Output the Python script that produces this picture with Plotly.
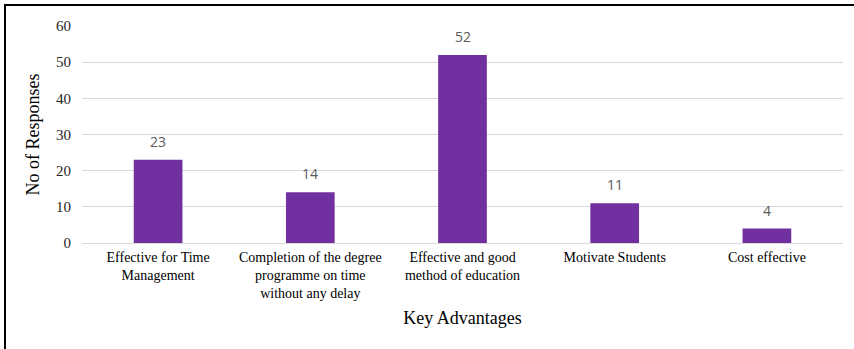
import plotly.graph_objects as go

categories = [
    "Effective for Time<br>Management",
    "Completion of the degree<br>programme on time<br>without any delay",
    "Effective and good<br>method of education",
    "Motivate Students",
    "Cost effective",
]
responses = [23, 14, 52, 11, 4]
y_ticks = [0, 10, 20, 30, 40, 50, 60]

W, H = 854, 349
L, R, T, B = 82, 11, 26, 106
pw, ph = W - L - R, H - T - B

serif = "Liberation Serif"

fig = go.Figure(
    go.Bar(
        x=categories,
        y=responses,
        marker=dict(color="#7030a0", line=dict(width=0)),
        width=0.32,
        hoverinfo="x+y",
    )
)

# value labels above each bar
for c, v in zip(categories, responses):
    fig.add_annotation(
        x=c, y=v, text=str(v), showarrow=False,
        yanchor="bottom", yshift=7,
        font=dict(family="Open Sans", size=14, color="#595959"),
    )

# frame around the figure (left and top edges visible)
fig.add_shape(
    type="rect", xref="paper", yref="paper",
    x0=(5 - L) / pw, x1=(W + 20 - L) / pw,
    y0=-(B + 20) / ph, y1=1 + (T - 5) / ph,
    line=dict(color="black", width=2), layer="above",
)

fig.update_layout(
    width=W, height=H,
    margin=dict(l=L, r=R, t=T, b=B),
    paper_bgcolor="white", plot_bgcolor="white",
    showlegend=False,
    font=dict(family=serif, color="#000000"),
    xaxis=dict(
        title=dict(text="Key Advantages", font=dict(family=serif, size=18, color="black"), standoff=10),
        tickfont=dict(family=serif, size=14, color="black"),
        showgrid=False, showline=False, ticks="",
        ticklabelstandoff=4,
    ),
    yaxis=dict(
        title=dict(text="No of Responses", font=dict(family=serif, size=18, color="black"), standoff=11),
        tickvals=y_ticks, range=[0, 60],
        tickfont=dict(family=serif, size=15, color="#262626"),
        showgrid=True, gridcolor="#d9d9d9", gridwidth=1,
        zeroline=True, zerolinecolor="#d9d9d9", zerolinewidth=1,
        showline=False, ticks="", ticklen=0,
        ticklabelstandoff=10,
    ),
)

fig.write_html("out.html")
